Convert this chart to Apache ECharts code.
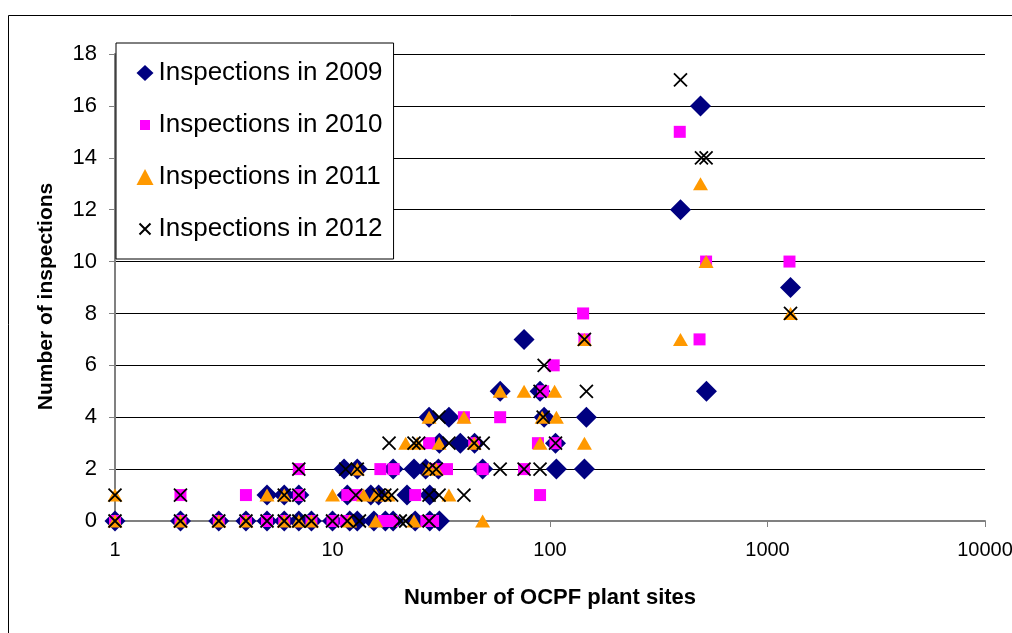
<!DOCTYPE html>
<html>
<head>
<meta charset="utf-8">
<script src="https://cdn.jsdelivr.net/npm/echarts@6/dist/echarts.min.js"></script>
<style>
html,body{margin:0;padding:0;background:#fff;overflow:hidden;}
#c{width:1012px;height:633px;}
</style>
</head>
<body>
<div id="c"></div>
<script>
// Data: [number of OCPF plant sites, number of inspections]
const seriesNames = ['Inspections in 2009', 'Inspections in 2010', 'Inspections in 2011', 'Inspections in 2012'];
const xTickLabels = ['1', '10', '100', '1000', '10000'];
const yTicks = [0, 2, 4, 6, 8, 10, 12, 14, 16, 18];

const data2009 = [
  [1,0],[2,0],[3,0],[4,0],[5,0],[6,0],[7,0],[8,0],[10,0],[12,0],[13,0],[15.5,0],[17.5,0],[19,0],[24,0],[28,0],[31,0],
  [5,1],[6,1],[7,1],[11.7,1],[15,1],[16.3,1],[22,1],[28,1],
  [11.3,2],[13,2],[19,2],[23.7,2],[26.8,2],[30.7,2],[49,2],[107,2],[144,2],
  [31,3],[38.7,3],[45,3],[106,3],
  [27.8,4],[34.3,4],[94,4],[147,4],
  [59,5],[90,5],[524,5],
  [76,7],[1276,9],[398,12],[492,16]
];
const data2010 = [
  [1,0],[2,0],[3,0],[4,0],[5,0],[6,0],[8,0],[10,0],[11.5,0],[17.2,0],[18.8,0],[27,0],[29,0],
  [2,1],[4,1],[7,1],[11.7,1],[12.9,1],[24,1],[90,1],
  [7,2],[16.6,2],[19.1,2],[30,2],[33.6,2],[49,2],[76,2],
  [27.8,3],[44.8,3],[88,3],[106,3],
  [40.2,4],[59,4],
  [93,5],[104,6],[144,7],[487,7],[142,8],[522,10],[1262,10],[395,15]
];
const data2011 = [
  [1,0],[2,0],[3,0],[4,0],[6,0],[7,0],[8,0],[12,0],[15.8,0],[23.7,0],[49,0],
  [1,1],[5,1],[6,1],[10,1],[13.9,1],[15.8,1],[18,1],[34.3,1],
  [13,2],[27.7,2],[30,2],
  [21.7,3],[24.5,3],[30.9,3],[44.8,3],[90,3],[144,3],
  [27.8,4],[40.2,4],[92,4],[107,4],
  [59,5],[76,5],[105,5],
  [144,7],[398,7],[1276,8],[522,10],[492,13]
];
const data2012 = [
  [1,0],[2,0],[3,0],[4,0],[5,0],[6,0],[7,0],[8,0],[10,0],[11.7,0],[13.3,0],[20.5,0],[21.7,0],[27.8,0],
  [1,1],[2,1],[6,1],[7,1],[12.8,1],[16.3,1],[17.4,1],[18.7,1],[27.8,1],[30.9,1],[40.2,1],
  [7,2],[11.5,2],[13,2],[27.7,2],[30,2],[59,2],[76,2],[90,2],
  [18.2,3],[23.7,3],[24.9,3],[34.3,3],[44.8,3],[49.3,3],[106,3],
  [30.9,4],[93,4],
  [90,5],[147,5],[94,6],[144,7],[1276,8],[497,14],[522,14],[398,17]
];

const crossPath = 'path://M0,0L10,10M10,0L0,10';
// legend icons padded inside a 16x16 box so they draw smaller, as in the reference
const legendSquare = 'path://M0,0M16,16M3,3L13,3L13,13L3,13Z';
const legendCross = 'path://M0,0M16,16M2.5,2.5L13.5,13.5M13.5,2.5L2.5,13.5';
const FONT = 'Liberation Sans, Arial, sans-serif';

const chart = echarts.init(document.getElementById('c'), null, {renderer: 'canvas'});
chart.setOption({
  animation: false,
  backgroundColor: '#ffffff',
  graphic: [{
    type: 'rect', left: 8, top: 15, z: -10,
    shape: {width: 1200, height: 800},
    style: {fill: '#ffffff', stroke: '#000000', lineWidth: 1}
  }],
  grid: {left: 115, right: 27, top: 54, bottom: 112, containLabel: false, outerBoundsMode: 'none'},
  legend: {
    orient: 'vertical',
    left: 116, top: 43,
    backgroundColor: '#ffffff',
    borderColor: '#000000',
    borderWidth: 1,
    padding: [17, 11, 17, 20],
    itemGap: 26,
    itemWidth: 17,
    itemHeight: 16,
    textStyle: {fontFamily: FONT, fontSize: 26, color: '#000'},
    data: [
      {name: seriesNames[0], icon: 'diamond'},
      {name: seriesNames[1], icon: legendSquare},
      {name: seriesNames[2], icon: 'triangle'},
      {name: seriesNames[3], icon: legendCross}
    ],
    z: 20
  },
  xAxis: {
    type: 'log', logBase: 10, min: 1, max: 10000,
    name: 'Number of OCPF plant sites',
    nameLocation: 'middle', nameGap: 66,
    nameTextStyle: {fontFamily: FONT, fontSize: 22, fontWeight: 'bold', color: '#000'},
    axisLine: {show: true, onZero: false, lineStyle: {color: '#808080', width: 2}},
    axisTick: {show: true, inside: false, length: 6, lineStyle: {color: '#808080'}},
    minorTick: {show: false},
    splitLine: {show: false},
    axisLabel: {
      fontFamily: FONT, fontSize: 20, color: '#000', margin: 19,
      formatter: function (v) {
        const i = Math.round(Math.log10(v));
        return xTickLabels[i] !== undefined ? xTickLabels[i] : '';
      }
    }
  },
  yAxis: {
    type: 'value', min: yTicks[0], max: yTicks[yTicks.length - 1], interval: 2,
    name: 'Number of inspections',
    nameLocation: 'middle', nameGap: 58,
    nameTextStyle: {fontFamily: FONT, fontSize: 21, fontWeight: 'bold', color: '#000', padding: [0, 18, 0, 0]},
    axisLine: {show: true, lineStyle: {color: '#808080', width: 2}},
    axisTick: {show: true, inside: false, length: 6, lineStyle: {color: '#808080'}},
    splitLine: {show: true, lineStyle: {color: '#000000', width: 1}},
    axisLabel: {fontFamily: FONT, fontSize: 22, color: '#000', margin: 18}
  },
  series: [
    {
      name: seriesNames[0], type: 'scatter', data: data2009,
      symbol: 'diamond', symbolSize: 21,
      itemStyle: {color: '#000080', opacity: 1}, z: 2
    },
    {
      name: seriesNames[1], type: 'scatter', data: data2010,
      symbol: 'rect', symbolSize: 12,
      itemStyle: {color: '#FF00FF', opacity: 1}, z: 3
    },
    {
      name: seriesNames[2], type: 'scatter', data: data2011,
      symbol: 'triangle', symbolSize: [15, 13],
      itemStyle: {color: '#FF9900', opacity: 1}, z: 4
    },
    {
      name: seriesNames[3], type: 'scatter', data: data2012,
      symbol: crossPath, symbolSize: 13,
      itemStyle: {color: 'rgba(0,0,0,0)', borderColor: '#000000', borderWidth: 1.8, opacity: 1}, z: 5
    }
  ]
});
</script>
</body>
</html>
